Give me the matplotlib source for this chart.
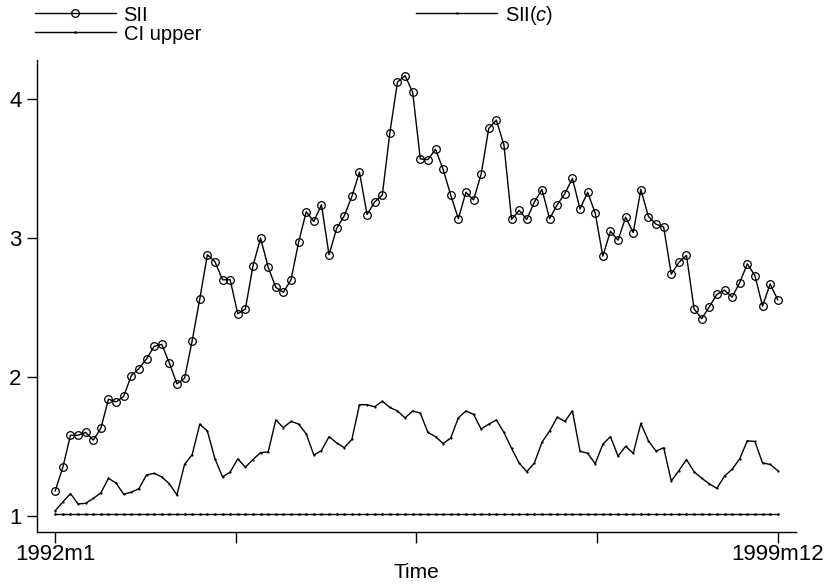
import numpy as np
import matplotlib
matplotlib.use("Agg")
import matplotlib.pyplot as plt

plt.rcParams['font.family'] = ['Liberation Sans', 'DejaVu Sans']
plt.rcParams['mathtext.fontset'] = 'custom'
plt.rcParams['mathtext.rm'] = 'Liberation Sans'
plt.rcParams['mathtext.it'] = 'Liberation Sans:italic'

# monthly series 1992m1 .. 1999m12
sii = [1.18, 1.35, 1.58, 1.58, 1.60, 1.545, 1.63, 1.84, 1.82, 1.86,
       2.01, 2.06, 2.13, 2.22, 2.235, 2.10, 1.95, 1.99, 2.26, 2.56,
       2.88, 2.83, 2.70, 2.70, 2.455, 2.49, 2.80, 3.00, 2.79, 2.645,
       2.61, 2.70, 2.97, 3.19, 3.12, 3.24, 2.88, 3.07, 3.16, 3.30,
       3.475, 3.17, 3.26, 3.31, 3.76, 4.125, 4.17, 4.05, 3.57, 3.565,
       3.64, 3.495, 3.31, 3.14, 3.33, 3.275, 3.46, 3.79, 3.85, 3.67,
       3.135, 3.20, 3.135, 3.26, 3.35, 3.14, 3.24, 3.32, 3.43, 3.21,
       3.33, 3.18, 2.87, 3.05, 2.985, 3.15, 3.04, 3.35, 3.155, 3.10,
       3.08, 2.74, 2.825, 2.875, 2.49, 2.42, 2.505, 2.595, 2.625, 2.575,
       2.68, 2.815, 2.73, 2.51, 2.67, 2.555]
sii_c = [1.036, 1.10, 1.16, 1.085, 1.09, 1.125, 1.165, 1.27, 1.235, 1.155,
         1.17, 1.195, 1.295, 1.305, 1.28, 1.23, 1.15, 1.37, 1.44, 1.66,
         1.61, 1.41, 1.28, 1.315, 1.41, 1.35, 1.405, 1.455, 1.46, 1.69,
         1.635, 1.68, 1.66, 1.59, 1.437, 1.47, 1.57, 1.525, 1.49, 1.55,
         1.80, 1.80, 1.785, 1.825, 1.78, 1.755, 1.705, 1.755, 1.74, 1.60,
         1.57, 1.52, 1.56, 1.705, 1.755, 1.73, 1.625, 1.66, 1.69, 1.60,
         1.485, 1.38, 1.317, 1.38, 1.53, 1.61, 1.71, 1.68, 1.755, 1.465,
         1.45, 1.375, 1.515, 1.57, 1.43, 1.50, 1.45, 1.665, 1.54, 1.465,
         1.49, 1.25, 1.325, 1.405, 1.317, 1.27, 1.23, 1.197, 1.286, 1.335,
         1.41, 1.54, 1.535, 1.38, 1.37, 1.325]
ci_upper = [1.01] * 96
xtick_labels = ['1992m1', '', '', '', '1999m12']

t = np.arange(len(sii))

fig = plt.figure(figsize=(8.28, 5.86), dpi=100)
ax = fig.add_axes([37/828, 54/586, (796-37)/828, (532-60)/586])

l1, = ax.plot(t, sii, color='black', lw=1.0, marker='o', ms=5.5,
              mfc='none', mec='black', mew=0.9, label='SII')
l2, = ax.plot(t, sii_c, color='black', lw=1.0, marker='.', ms=1.2,
              label='SII($c$)')
l3, = ax.plot(t, ci_upper, color='black', lw=1.0, marker='.', ms=1.8,
              label='CI upper')

ax.set_xlim(-2.4, 97.4)
ax.set_ylim(0.883, 4.283)
ax.set_yticks([1, 2, 3, 4])
ax.set_xticks(np.linspace(0, 95, 5))
ax.set_xticklabels(xtick_labels)
ax.set_xlabel('Time', fontsize=15, labelpad=-2)

for s in ['top', 'right']:
    ax.spines[s].set_visible(False)
for s in ['left', 'bottom']:
    ax.spines[s].set_linewidth(1.0)
ax.tick_params(axis='both', direction='out', width=1.0, labelsize=16)
ax.tick_params(axis='y', length=7.2, pad=4)
ax.tick_params(axis='x', length=8, pad=1)

fig.legend([l1, l3, l2], ['SII', 'CI upper', 'SII($c$)'], ncol=2,
           loc='upper left', bbox_to_anchor=(35/828, 0.994),
           frameon=False, fontsize=14.5, borderpad=0, handlelength=4.0,
           handletextpad=0.4, columnspacing=10.7, labelspacing=0.0,
           numpoints=1, borderaxespad=0)

fig.savefig('out.png', dpi=100)
